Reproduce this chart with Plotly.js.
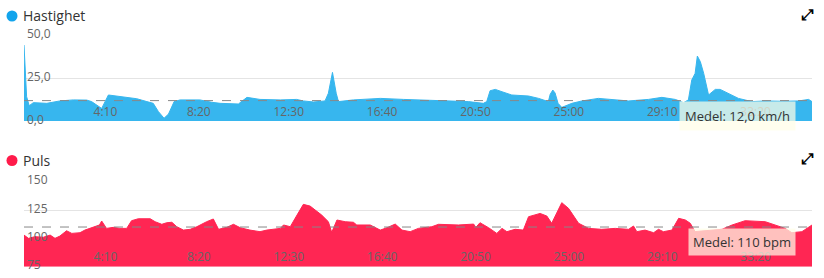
<!DOCTYPE html>
<html>
<head>
<meta charset="utf-8">
<script src="https://cdn.plot.ly/plotly-3.0.1.min.js"></script>
<style>html,body{margin:0;padding:0;background:#fff;}#chart{width:824px;height:278px;}</style>
</head>
<body>
<div id="chart"></div>
<script>
// ---- data (time in seconds) ----
const speedTime = [0,7,14,25,61,96,132,168,181,199,208,226,257,302,329,346,360,375,387,402,418,471,503,525,574,583,597,632,686,730,748,775,806,815,826,836,842,882,954,1016,1056,1137,1190,1230,1239,1248,1262,1280,1306,1351,1378,1404,1409,1416,1422,1430,1440,1467,1494,1538,1583,1619,1672,1708,1744,1766,1779,1788,1797,1803,1811,1820,1833,1851,1864,1887,1913,1949,1985,2030,2074,2101,2110];
const speedValue = [44.7,14.3,9.0,10.8,10.4,11.8,12.4,12.3,11.4,8.4,7.4,15.3,14.3,13.1,11.4,10.4,5.5,1.6,4.1,11.4,12.4,12.4,11.0,10.4,10.0,11.4,13.9,12.7,12.4,12.7,11.8,11.2,11.8,16.3,28.6,16.3,11.4,12.4,13.3,12.7,12.4,12.0,11.4,10.4,11.4,17.8,18.6,17.2,15.3,14.7,13.3,11.4,15.7,18.2,16.5,10.4,8.0,10.4,11.8,13.3,12.7,11.8,12.7,13.9,12.7,10.8,12.4,24.1,28.0,38.2,34.9,28.0,15.3,18.6,18.6,16.3,13.3,11.4,11.8,11.6,11.8,12.7,11.4];
const speedMean = 12.0;

const pulseTime = [0,12,29,52,70,83,96,114,128,150,163,186,202,208,221,239,257,275,288,306,338,351,369,382,396,409,427,445,463,489,507,521,543,561,579,605,632,650,686,695,713,726,748,766,784,797,815,824,838,860,882,891,927,954,972,994,1012,1034,1056,1092,1110,1137,1163,1204,1210,1221,1244,1266,1280,1293,1315,1337,1351,1382,1400,1413,1427,1440,1458,1471,1485,1512,1547,1583,1619,1632,1641,1663,1686,1699,1712,1735,1753,1771,1784,1797,1824,1851,1869,1896,1931,1985,2012,2038,2056,2083,2110];
const pulseValue = [102.9,100,101.5,101.0,102.9,100,102,106.7,104.4,105,107.3,110.3,111.8,115.3,108.8,109.7,108.8,108.8,115.6,117.3,117.3,114.7,112.4,113.8,114.2,110.3,107.3,108,110.3,114.7,117.1,108,109.7,112.4,109.4,107.3,105.9,107.3,108.8,111.8,110.3,117.7,130,128.5,123.5,120.6,114.7,105.3,116.2,114.7,114.2,111.8,111.8,107.3,109.4,112.6,107.3,105.9,108.8,110.3,112.4,111.8,111.8,112.6,109.7,113.8,109.4,104.4,108.8,105.9,108,107.3,119.1,122,119.7,113.3,123.5,131.5,126.5,120.6,113.3,108.8,108,108.8,108,110.9,105.9,107.3,105,108,105.9,107.3,117.7,116.2,113.3,106,106.5,107,108,111.8,115.6,114.7,111.8,108.8,105,105.9,111.8];
const pulseMean = 110;

const xTickVals = [250,500,750,1000,1250,1500,1750,2000];
const xTickText = ["4:10","8:20","12:30","16:40","20:50","25:00","29:10","33:20"];
const speedTicks = [0,25,50];
const speedTickText = ["0,0","25,0","50,0"];
const pulseTicks = [75,100,125,150];
const pulseTickText = ["75","100","125","150"];
const titles = ["Hastighet","Puls"];

// ---- layout helpers ----
const H = 278, W = 824, L = 24, R = 12;
function dom(topPx, botPx){ return [1 - botPx/H, 1 - topPx/H]; }
const sTop = 36, sBot = 121, pTop = 181.7, pBot = 266.7;
const sRange = [0,50], pRange = [75,150];

const blue = '#37b6ee', red = '#ff2653';
const tickFont = {family:'Open Sans, sans-serif', size:12, color:'#666'};

const traces = [
  {x:speedTime, y:speedValue, type:'scatter', mode:'lines', fill:'tozeroy',
   line:{color:blue, width:1}, fillcolor:blue, xaxis:'x', yaxis:'y', hoverinfo:'skip'},
  {x:pulseTime, y:pulseTime.map(()=>pRange[0]), type:'scatter', mode:'lines',
   line:{width:0, color:red}, xaxis:'x2', yaxis:'y2', hoverinfo:'skip'},
  {x:pulseTime, y:pulseValue, type:'scatter', mode:'lines', fill:'tonexty',
   line:{color:red, width:1}, fillcolor:red, xaxis:'x2', yaxis:'y2', hoverinfo:'skip'}
];

function xa(anchor){
  return {domain:[0,1], anchor:anchor, range:[0, 2110], tickvals:xTickVals, ticktext:xTickText,
    ticklabelposition:'inside left', ticks:'', showgrid:false, zeroline:false, showline:false,
    tickfont:tickFont, ticklabelstandoff:-3};
}
function ya(anchor, r, ticks, top, bot){
  return {domain:dom(top, bot), anchor:anchor, range:r, tickvals:ticks, showticklabels:false,
    ticks:'', showgrid:true, gridcolor:'#e4e4e4', gridwidth:1, zeroline:false, showline:false};
}
// y tick labels as text placed through the y scales
function yLabels(vals, texts, yref){
  return vals.map((v,i)=>({text:texts[i], xref:'paper', yref:yref, x:0, y:v, xanchor:'left', yanchor:'middle',
    xshift:1, yshift:2, showarrow:false, font:tickFont}));
}

const layout = {
  width:W, height:H, margin:{l:L, r:R, t:0, b:0}, paper_bgcolor:'#fff', plot_bgcolor:'rgba(0,0,0,0)',
  showlegend:false, font:{family:'Open Sans, sans-serif'},
  xaxis:xa('y'), yaxis:ya('x', sRange, speedTicks, sTop, sBot),
  xaxis2:xa('y2'), yaxis2:ya('x2', pRange, pulseTicks, pTop, pBot),
  shapes:[
    {type:'line', xref:'paper', x0:0, x1:1, yref:'y', y0:speedMean, y1:speedMean, line:{color:'#888', width:1, dash:'dash'}},
    {type:'line', xref:'paper', x0:0, x1:1, yref:'y2', y0:pulseMean, y1:pulseMean, line:{color:'#888', width:1, dash:'dash'}},
    {type:'circle', xref:'paper', yref:'paper', xsizemode:'pixel', ysizemode:'pixel',
     xanchor:(12-L)/(W-L-R), yanchor:1-16/H, x0:-5.5, x1:5.5, y0:-5.5, y1:5.5, fillcolor:'#12a4ec', line:{width:0}},
    {type:'circle', xref:'paper', yref:'paper', xsizemode:'pixel', ysizemode:'pixel',
     xanchor:(12-L)/(W-L-R), yanchor:1-160.5/H, x0:-5.5, x1:5.5, y0:-5.5, y1:5.5, fillcolor:'#ff1b4a', line:{width:0}}
  ],
  annotations:[
    ...yLabels(speedTicks, speedTickText, 'y'),
    ...yLabels(pulseTicks, pulseTickText, 'y2'),
    {text:titles[0], xref:'paper', yref:'paper', x:(21-L)/(W-L-R), y:1-16/H, xanchor:'left', yanchor:'middle',
     showarrow:false, font:{size:14, color:'#333'}},
    {text:titles[1], xref:'paper', yref:'paper', x:(21-L)/(W-L-R), y:1-160.5/H, xanchor:'left', yanchor:'middle',
     showarrow:false, font:{size:14, color:'#333'}},
    {text:'<b>⤢</b>', xref:'paper', yref:'paper', x:(807-L)/(W-L-R), y:1-15/H, xanchor:'center', yanchor:'middle',
     showarrow:false, font:{family:'DejaVu Sans', size:15, color:'#000'}},
    {text:'<b>⤢</b>', xref:'paper', yref:'paper', x:(807-L)/(W-L-R), y:1-159/H, xanchor:'center', yanchor:'middle',
     showarrow:false, font:{family:'DejaVu Sans', size:15, color:'#000'}},
    {text:'Medel: ' + speedMean.toFixed(1).replace('.', ',') + ' km/h', xref:'paper', yref:'paper',
     x:(737-L)/(W-L-R), y:1-116/H, xanchor:'center', yanchor:'middle', showarrow:false,
     font:{size:13, color:'#333'}, bgcolor:'rgba(255,253,232,0.72)', borderpad:5},
    {text:'Medel: ' + pulseMean + ' bpm', xref:'paper', yref:'paper',
     x:(741.5-L)/(W-L-R), y:1-241.5/H, xanchor:'center', yanchor:'middle', showarrow:false,
     font:{size:13, color:'#333'}, bgcolor:'rgba(255,253,232,0.72)', borderpad:4}
  ]
};

Plotly.newPlot('chart', traces, layout, {staticPlot:true, displayModeBar:false});
</script>
</body>
</html>
